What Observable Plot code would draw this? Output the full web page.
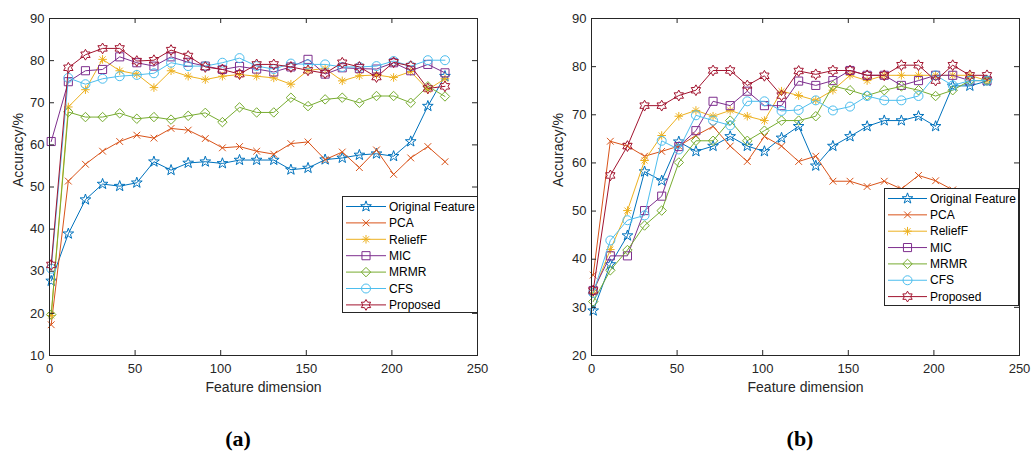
<!DOCTYPE html>
<html><head><meta charset="utf-8">
<script src="https://cdn.jsdelivr.net/npm/d3@7"></script>
<script src="https://cdn.jsdelivr.net/npm/@observablehq/plot@0.6"></script>
<style>
body{margin:0;background:#fff;font-family:"Liberation Sans",Arial,sans-serif;}
#wrap{position:relative;width:1031px;height:456px;overflow:hidden;}
.panel{position:absolute;top:0;}
.legend{position:absolute;background:#fff;border:1px solid #262626;box-sizing:border-box;}
.cap{position:absolute;font:bold 22px "Liberation Serif","DejaVu Serif",serif;color:#000;transform:translate(-50%,-50%);}
</style></head><body>
<div id="wrap"></div>
<script>
// ---------- data ----------
const dims = [1,11,21,31,41,51,61,71,81,91,101,111,121,131,141,151,161,171,181,191,201,211,221,231];
const seriesNames = ["Original Feature","PCA","ReliefF","MIC","MRMR","CFS","Proposed"];
const seriesColors = ["#0072BD","#D95319","#EDB120","#7E2F8E","#77AC30","#4DBEEE","#A2142F"];
const xTicks = [0,50,100,150,200,250];
const yTicksA = [10,20,30,40,50,60,70,80,90];
const yTicksB = [20,30,40,50,60,70,80,90];
const xLabel = "Feature dimension";
const yLabel = "Accuracy/%";
const captions = ["(a)","(b)"];

// panel (a)
const aOriginal = [27.7,38.9,47.0,50.7,50.2,51.0,56.0,54.0,55.7,56.0,55.6,56.4,56.4,56.4,54.1,54.5,56.5,56.9,57.6,57.9,57.3,60.8,69.2,76.3];
const aPCA      = [17.3,51.4,55.4,58.5,60.8,62.3,61.6,63.9,63.5,61.5,59.3,59.6,58.5,57.8,60.3,60.7,56.5,58.3,54.6,58.8,53.0,56.9,59.6,56.0];
const aReliefF  = [19.5,69.0,73.1,80.3,77.6,76.8,73.6,77.6,76.3,75.5,76.3,76.7,76.3,75.9,74.4,77.7,78.1,75.2,76.4,76.6,76.0,77.4,73.1,75.7];
const aMIC      = [60.8,75.0,77.6,77.9,80.9,79.5,78.7,80.9,79.6,78.7,77.9,78.6,78.0,77.3,78.5,80.3,76.8,78.3,78.1,78.0,79.5,77.6,79.1,77.1];
const aMRMR     = [19.7,67.8,66.6,66.6,67.5,66.2,66.6,66.0,66.9,67.6,65.4,68.9,67.7,67.7,71.2,69.2,70.8,71.2,70.0,71.6,71.6,70.0,73.9,71.5];
const aCFS      = [30.6,75.9,74.4,75.7,76.3,76.6,77.0,79.5,78.7,78.7,79.5,80.6,78.7,78.0,79.3,79.1,79.1,78.5,78.5,78.7,79.9,78.7,80.1,80.1];
const aProposed = [31.5,78.3,81.4,82.9,82.9,79.9,80.1,82.5,81.1,78.5,77.9,76.8,79.1,79.1,78.5,77.7,77.0,79.5,78.5,76.1,79.6,78.7,73.4,73.9];

// panel (b)
const bOriginal = [29.3,38.9,44.9,58.2,56.3,64.4,62.4,63.5,65.5,63.5,62.4,65.2,67.6,59.4,63.5,65.5,67.6,68.8,68.8,69.7,67.6,76.0,76.0,77.0];
const bPCA      = [36.7,64.5,63.5,61.4,62.4,63.5,65.7,67.6,63.5,60.3,65.5,63.5,60.3,61.4,56.2,56.2,55.1,56.2,54.6,57.4,56.3,54.4,53.0,52.0];
const bReliefF  = [33.0,42.0,50.1,60.5,65.7,69.7,70.9,69.7,70.9,69.7,68.8,74.9,74.0,73.0,75.1,78.2,77.1,78.2,78.2,78.2,78.2,78.2,78.2,77.1];
const bMIC      = [33.5,40.7,40.7,50.1,53.1,63.4,66.7,72.8,71.9,74.9,71.9,71.9,77.0,76.1,77.1,79.2,78.2,78.2,76.1,77.1,78.2,78.2,77.1,77.1];
const bMRMR     = [31.2,37.7,41.9,47.0,50.1,60.1,64.6,64.6,68.8,64.6,66.7,68.8,68.8,69.7,76.0,75.1,74.0,75.1,75.9,75.1,73.9,75.1,77.1,77.1];
const bCFS      = [33.0,43.9,48.1,49.1,64.6,62.8,69.9,68.8,67.8,72.8,72.8,70.8,71.0,73.0,70.9,71.7,73.9,73.0,73.0,73.9,78.2,76.1,77.1,77.1];
const bProposed = [33.5,57.4,63.5,71.9,71.9,74.0,75.1,79.2,79.2,76.1,78.1,74.0,79.1,78.4,79.2,79.2,78.2,78.2,80.3,80.3,77.1,80.3,78.2,78.2];

const panelA = [aOriginal,aPCA,aReliefF,aMIC,aMRMR,aCFS,aProposed];
const panelB = [bOriginal,bPCA,bReliefF,bMIC,bMRMR,bCFS,bProposed];

// ---------- marker symbols (MATLAB-like) ----------
function starPath(ctx, n, R, r){
  for(let i=0;i<2*n;i++){
    const a=-Math.PI/2+i*Math.PI/n, rr=i%2?r:R;
    const x=rr*Math.cos(a), y=rr*Math.sin(a);
    i?ctx.lineTo(x,y):ctx.moveTo(x,y);
  }
  ctx.closePath();
}
const rad = s => Math.sqrt(s/Math.PI);
const symPentagram = {draw(ctx,s){const R=rad(s)*1.25; starPath(ctx,5,R,R*0.4);}};
const symTimes = {draw(ctx,s){const R=rad(s)*0.75; ctx.moveTo(-R,-R);ctx.lineTo(R,R);ctx.moveTo(-R,R);ctx.lineTo(R,-R);}};
const symAsterisk = {draw(ctx,s){const R=rad(s)*0.95; for(let i=0;i<4;i++){const a=i*Math.PI/4;ctx.moveTo(R*Math.cos(a),R*Math.sin(a));ctx.lineTo(-R*Math.cos(a),-R*Math.sin(a));}}};
const symSquare = {draw(ctx,s){const h=rad(s)*0.9; ctx.rect(-h,-h,2*h,2*h);}};
const symDiamond = {draw(ctx,s){const R=rad(s)*1.05; ctx.moveTo(0,-R);ctx.lineTo(R,0);ctx.lineTo(0,R);ctx.lineTo(-R,0);ctx.closePath();}};
const symCircle = {draw(ctx,s){const R=rad(s)*1.0; ctx.moveTo(R,0);ctx.arc(0,0,R,0,2*Math.PI);}};
const symHexagram = {draw(ctx,s){const R=rad(s)*1.2; starPath(ctx,6,R,R/Math.sqrt(3));}};
const seriesSymbols = [symPentagram,symTimes,symAsterisk,symSquare,symDiamond,symCircle,symHexagram];
const markerR = 4.5;

// ---------- panels ----------
const W = 515, H = 400, mTop = 18, mBottom = 45;
function panel(values, yDomain, yTicks, mLeft, mRight, yLabelDx){
  const innerW = W - mLeft - mRight, innerH = H - mTop - mBottom;
  const marks = [];
  values.forEach((vals,i)=>{
    const rows = dims.map((d,j)=>({x:d, y:vals[j]}));
    marks.push(Plot.line(rows,{x:"x",y:"y",stroke:seriesColors[i],strokeWidth:1}));
    marks.push(Plot.dot(rows,{x:"x",y:"y",stroke:seriesColors[i],fill:"none",strokeWidth:1,symbol:seriesSymbols[i],r:markerR}));
  });
  return Plot.plot({
    width: W, height: H,
    marginLeft: mLeft, marginRight: mRight, marginTop: mTop, marginBottom: mBottom,
    style: {fontFamily:'"Liberation Sans",Arial,sans-serif', fontSize:"13px", color:"#262626", background:"#fff"},
    x: {domain:[0,250]},
    y: {domain:yDomain},
    marks: [
      ...marks,
      Plot.frame({stroke:"#262626"}),
      Plot.ruleX(xTicks,{x:d=>d, insetTop: innerH-5, stroke:"#262626"}),
      Plot.ruleX(xTicks,{x:d=>d, insetBottom: innerH-5, stroke:"#262626"}),
      Plot.ruleY(yTicks,{y:d=>d, insetRight: innerW-5, stroke:"#262626"}),
      Plot.ruleY(yTicks,{y:d=>d, insetLeft: innerW-5, stroke:"#262626"}),
      Plot.axisX({ticks:xTicks, tickSize:0, tickPadding:8, label:null, fill:"#262626"}),
      Plot.axisY({ticks:yTicks, tickSize:0, tickPadding:5, label:null, fill:"#262626"}),
      Plot.text([xLabel],{text:d=>d, frameAnchor:"bottom", dy:36, fontSize:14, fill:"#262626"}),
      Plot.text([yLabel],{text:d=>d, frameAnchor:"left", dx:yLabelDx, rotate:-90, fontSize:14, fill:"#262626"})
    ]
  });
}

const wrap = document.getElementById("wrap");
function place(node,left){node.classList.add("panel");node.style.left=left+"px";wrap.appendChild(node);}
place(panel(panelA,[10,90],yTicksA,49,38,-31),0);
place(panel(panelB,[20,90],yTicksB,75,12,-33),516);

// ---------- legends ----------
function legend(left, top, w, h, y0, dyRow, lineX0, lineX1, textX){
  const div = document.createElement("div");
  div.className = "legend";
  div.style.left = left+"px"; div.style.top = top+"px";
  div.style.width = w+"px"; div.style.height = h+"px";
  const svg = d3.create("svg").attr("width",w-2).attr("height",h-2).style("position","absolute").style("left","0").style("top","0");
  seriesNames.forEach((name,i)=>{
    const y = y0 + i*dyRow;
    const g = svg.append("g");
    g.append("line").attr("x1",lineX0).attr("x2",lineX1).attr("y1",y).attr("y2",y).attr("stroke",seriesColors[i]).attr("stroke-width",1);
    g.append("path").attr("d",d3.symbol(seriesSymbols[i], Math.PI*markerR*markerR)()).attr("transform",`translate(${(lineX0+lineX1)/2},${y})`)
      .attr("fill","none").attr("stroke",seriesColors[i]).attr("stroke-width",1);
    g.append("text").attr("x",textX).attr("y",y).attr("dy","0.35em").attr("font-size","12px")
      .attr("font-family",'"Liberation Sans",Arial,sans-serif').attr("fill","#000").text(name);
  });
  div.appendChild(svg.node());
  wrap.appendChild(div);
}
legend(342,196,136,117,9.5,16.4,3,43,46);
legend(884,188,135,118,9.5,16.35,3,42,45);

// ---------- captions ----------
[[238,439],[800,439]].forEach(([x,y],i)=>{
  const c = document.createElement("div");
  c.className="cap"; c.style.left=x+"px"; c.style.top=y+"px"; c.textContent=captions[i];
  wrap.appendChild(c);
});
</script>
</body></html>
